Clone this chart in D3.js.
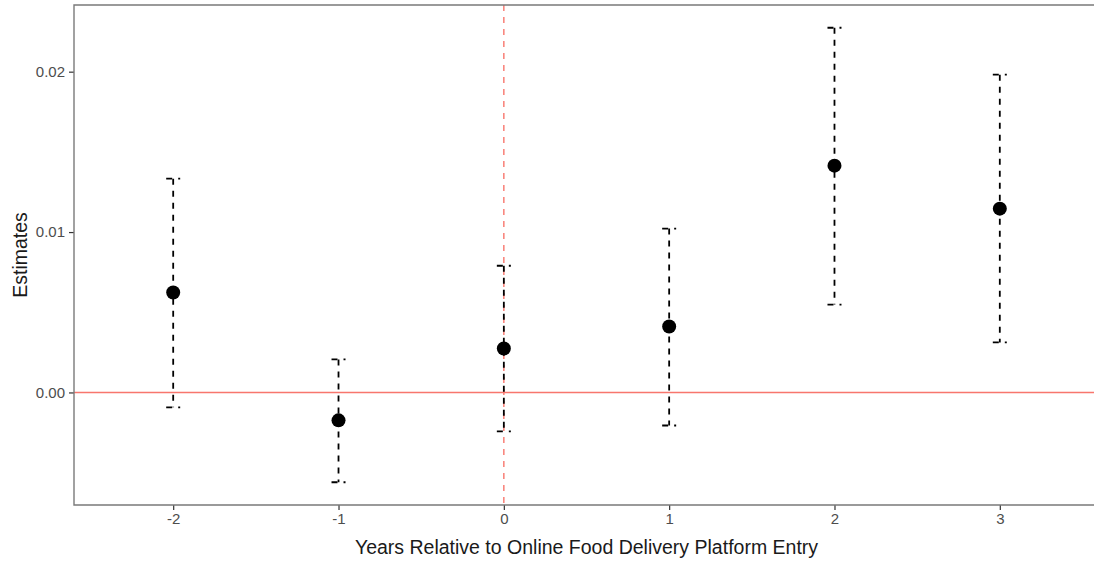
<!DOCTYPE html>
<html>
<head>
<meta charset="utf-8">
<script src="https://cdn.jsdelivr.net/npm/d3@7"></script>
<style>
  body { margin: 0; background: #fff; }
  svg { display: block; font-family: "Liberation Sans", Arial, sans-serif; }
</style>
</head>
<body>
<svg id="chart" width="1094" height="561"></svg>
<script>
// event-study estimates
const years = [-2, -1, 0, 1, 2, 3];
const estimates = [0.00623, -0.00174, 0.00274, 0.00411, 0.01414, 0.01146];
const lower = [-0.00093, -0.00560, -0.00243, -0.00206, 0.00548, 0.00312];
const upper = [0.01333, 0.00206, 0.00790, 0.01022, 0.02274, 0.01981];
const yTicks = [0.00, 0.01, 0.02];

const svg = d3.select("#chart");

const panelL = 74, panelR = 1099, panelT = 5, panelB = 505;

const x = d3.scaleLinear()
    .domain([-2.6, 3.6])
    .range([panelL, panelR]);

const yMin = d3.min(lower), yMax = d3.max(upper);
const pad = (yMax - yMin) * 0.05;
const y = d3.scaleLinear()
    .domain([yMin - pad, yMax + pad])
    .range([panelB, panelT]);

// reference lines
svg.append("line")
    .attr("x1", panelL).attr("x2", panelR)
    .attr("y1", y(0)).attr("y2", y(0))
    .attr("stroke", "#f8766d")
    .attr("stroke-width", 1.4);

svg.append("line")
    .attr("x1", x(0)).attr("x2", x(0))
    .attr("y1", panelT).attr("y2", panelB)
    .attr("stroke", "#f8766d")
    .attr("stroke-width", 1.4)
    .attr("stroke-dasharray", "6,6");

// error bars: dashed, caps drawn as part of the same dashed pattern
const capHalf = 7;
const bars = svg.append("g")
    .attr("fill", "none")
    .attr("stroke", "#000")
    .attr("stroke-width", 1.8)
    .attr("stroke-dasharray", "6,6");

years.forEach((yr, i) => {
    const cx = x(yr);
    bars.append("path")
        .attr("d", "M" + (cx - capHalf) + "," + y(upper[i]) + "H" + (cx + capHalf));
    bars.append("path")
        .attr("d", "M" + (cx - capHalf) + "," + y(lower[i]) + "H" + (cx + capHalf));
    bars.append("path")
        .attr("d", "M" + cx + "," + y(upper[i]) + "V" + y(lower[i]));
});

svg.append("g")
    .selectAll("circle")
    .data(years)
    .join("circle")
    .attr("cx", d => x(d))
    .attr("cy", (d, i) => y(estimates[i]))
    .attr("r", 7)
    .attr("fill", "#000");

// axes
const xAxis = svg.append("g")
    .attr("transform", "translate(0," + panelB + ")")
    .call(d3.axisBottom(x).tickValues(years).tickFormat(d3.format("d"))
        .tickSizeInner(5).tickSizeOuter(0).tickPadding(3));

const yAxis = svg.append("g")
    .attr("transform", "translate(" + panelL + ",0)")
    .call(d3.axisLeft(y).tickValues(yTicks).tickFormat(d3.format(".2f"))
        .tickSizeInner(5).tickSizeOuter(0).tickPadding(4));

[xAxis, yAxis].forEach(a => {
    a.select(".domain").remove();
    a.attr("font-size", null).attr("font-family", null);
    a.selectAll(".tick line").attr("stroke", "#333").attr("stroke-width", 1.2);
    a.selectAll(".tick text")
        .attr("fill", "#4d4d4d")
        .style("font-size", "15px");
});
xAxis.selectAll(".tick text").text(d => d < 0 ? "-" + Math.abs(d) : d);

// panel border (open at the right, which falls outside the picture)
svg.append("path")
    .attr("d", "M" + panelR + "," + panelT + "H" + panelL + "V" + panelB + "H" + panelR)
    .attr("fill", "none")
    .attr("stroke", "#7a7a7a")
    .attr("stroke-width", 1.4);

// titles
svg.append("text")
    .attr("x", (panelL + panelR) / 2)
    .attr("y", 554)
    .attr("text-anchor", "middle")
    .attr("fill", "#1a1a1a")
    .style("font-size", "19.5px")
    .text("Years Relative to Online Food Delivery Platform Entry");

svg.append("text")
    .attr("transform", "translate(27," + (panelT + panelB) / 2 + ") rotate(-90)")
    .attr("text-anchor", "middle")
    .attr("fill", "#1a1a1a")
    .style("font-size", "19.5px")
    .text("Estimates");
</script>
</body>
</html>
